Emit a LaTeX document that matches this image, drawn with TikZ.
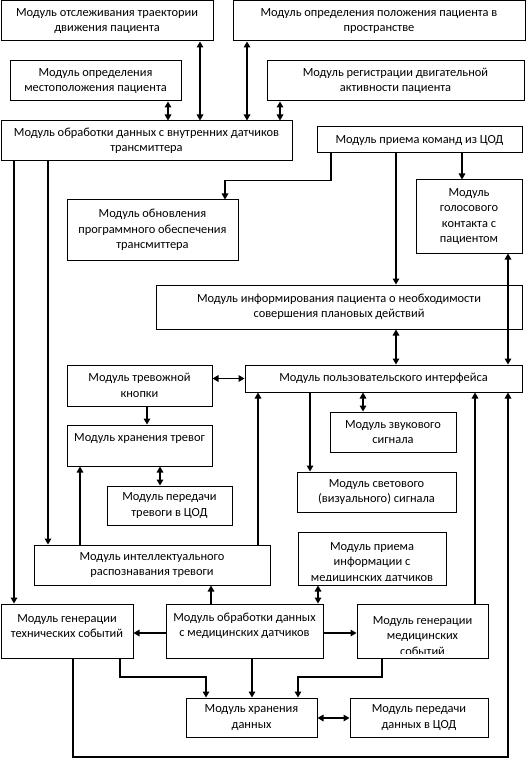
\documentclass[tikz,border=0pt]{standalone}
\usepackage{fontspec}
\setmainfont{Carlito}
\usetikzlibrary{arrows.meta}
\tikzset{
  box/.style={draw, line width=0.75pt, inner sep=0pt, align=center, font=\fontsize{9.3}{11.6}\selectfont},
  txt/.style={inner sep=0pt, align=center, font=\fontsize{9.3}{11.6}\selectfont},
  arr/.style={line width=0.8pt, -{Triangle[length=4.5pt,width=5pt]}},
  dbl/.style={line width=0.8pt, {Triangle[length=4.5pt,width=5pt]}-{Triangle[length=4.5pt,width=5pt]}},
  ln/.style={line width=0.8pt}
}
\newcommand\bx[6]{\node[box, minimum width={(#4-#2)*0.75pt}, minimum height={(#5-#3)*0.75pt}] (#1) at ({(#2+#4)/2},{(#3+#5)/2}) {#6};}
\begin{document}
\begin{tikzpicture}[x=0.75pt,y=-0.75pt]
\useasboundingbox (0,0) rectangle (527,759);
\bx{trk}{1}{1}{213}{41}{Модуль отслеживания траектории\\движения пациента}
\bx{pos}{233}{1}{525}{41}{Модуль определения положения пациента в\\пространстве}
\bx{loc}{10}{61}{181}{101}{Модуль определения\\местоположения пациента}
\bx{act}{267}{61}{524}{101}{Модуль регистрации двигательной\\активности пациента}
\bx{intd}{1}{121}{292}{161}{Модуль обработки данных с внутренних датчиков\\трансмиттера}
\bx{cmd}{317}{127}{522}{153}{Модуль приема команд из ЦОД}
\bx{upd}{67}{200}{238}{260}{Модуль обновления\\программного обеспечения\\трансмиттера}
\bx{voice}{416}{180}{522}{253}{Модуль\\голосового\\контакта с\\пациентом}
\bx{inform}{156}{285}{522}{329}{Модуль информирования пациента о необходимости\\совершения плановых действий}
\bx{btn}{67}{365}{212}{406}{Модуль тревожной\\кнопки}
\bx{ui}{245}{365}{522}{392}{Модуль пользовательского интерфейса}
\bx{alst}{67}{425}{212}{466}{Модуль хранения тревог\\\mbox{}}
\bx{alsnd}{107}{486}{232}{525}{Модуль передачи\\тревоги в ЦОД}
\bx{snd}{330}{412}{456}{452}{Модуль звукового\\сигнала}
\bx{light}{297}{472}{456}{512}{Модуль светового\\(визуального) сигнала}
\bx{intel}{34}{545}{270}{585}{Модуль интеллектуального\\распознавания тревоги}
\bx{medin}{298}{532}{446}{585}{}
\bx{tech}{1}{604}{133}{658}{}
\bx{medp}{166}{604}{323}{658}{}
\bx{medev}{357}{604}{488}{658}{}
\bx{store}{186}{698}{317}{737}{Модуль хранения\\данных}
\bx{dsnd}{350}{698}{488}{737}{Модуль передачи\\данных в ЦОД}
% texts placed off-centre, partly clipped as in the original
\node[txt] (techt) at (67,626) {Модуль генерации\\технических событий};
\node[txt] (medpt) at (244.5,626) {Модуль обработки данных\\с медицинских датчиков};
\begin{scope}
\clip (298,532) rectangle (446,580);
\node[txt] (medint) at (372,563) {Модуль приема\\информации с\\медицинских датчиков};
\end{scope}
\begin{scope}
\clip (357,604) rectangle (488,653);
\node[txt] (medevt) at (422.5,636) {Модуль генерации\\медицинских\\событий};
\end{scope}
% top connectors
\draw[dbl] (loc.south -| 168,0) -- (intd.north -| 168,0);
\draw[dbl] (trk.south -| 200,0) -- (intd.north -| 200,0);
\draw[dbl] (pos.south -| 247,0) -- (intd.north -| 247,0);
\draw[dbl] (act.south -| 280,0) -- (intd.north -| 280,0);
% command module
\draw[arr] (cmd.south -| 331,0) -- ++(0,27) -| (upd.north -| 225,0);
\draw[arr] (cmd.south -| 396,0) -- (inform.north -| 396,0);
\draw[arr] (cmd.south -| 462,0) -- (voice.north -| 462,0);
\draw[dbl] (inform.south -| 396,0) -- (ui.north -| 396,0);
\draw[dbl] (voice.south -| 508,0) -- (ui.north -| 508,0);
% internal sensors down
\draw[arr] (intd.south -| 14,0) -- (tech.north -| 14,0);
\draw[arr] (intd.south -| 48,0) -- (intel.north -| 48,0);
% alarm button
\draw[dbl] (btn.east |- ui.west) -- (ui.west);
\draw[arr] (btn.south -| 147,0) -- (alst.north -| 147,0);
\draw[dbl] (alst.south -| 160,0) -- (alsnd.north -| 160,0);
\draw[arr] (intel.north -| 80,0) -- (alst.south -| 80,0);
\draw[arr] (intel.north -| 258,0) -- (ui.south -| 258,0);
\draw[arr] (ui.south -| 310,0) -- (light.north -| 310,0);
\draw[dbl] (ui.south -| 363,0) -- (snd.north -| 363,0);
\draw[arr] (medev.north -| 475,0) -- (ui.south -| 475,0);
\draw[arr] (tech.south -| 73,0) -- (73,757) -- (508,757) -- (ui.south -| 508,0);
% medical processing
\draw[arr] (medp.north -| 211,0) -- (intel.south -| 211,0);
\draw[dbl] (medp.north -| 318,0) -- (medin.south -| 318,0);
\draw[arr] (medp.west |- 0,633) -- (tech.east |- 0,633);
\draw[arr] (medp.east |- 0,633) -- (medev.west |- 0,633);
\draw[arr] (tech.south -| 120,0) -- (120,677) -| (store.north -| 206,0);
\draw[arr] (medp.south -| 252,0) -- (store.north -| 252,0);
\draw[arr] (medev.south -| 382,0) -- (382,677) -| (store.north -| 298,0);
\draw[dbl] (store.east |- 0,718) -- (dsnd.west |- 0,718);
\end{tikzpicture}
\end{document}
